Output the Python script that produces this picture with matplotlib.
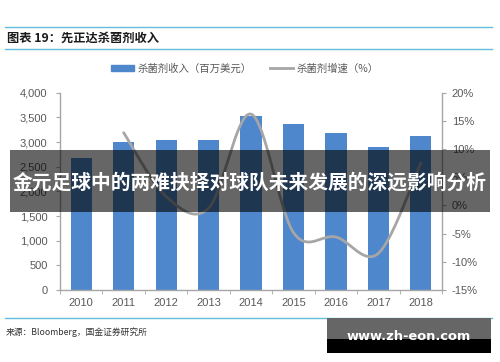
import numpy as np
import matplotlib
matplotlib.use("Agg")
import matplotlib.pyplot as plt
from matplotlib.patches import Rectangle
from matplotlib.lines import Line2D
from matplotlib.ticker import FuncFormatter, MultipleLocator

plt.rcParams["font.family"] = ["Liberation Sans", "Noto Sans CJK SC", "DejaVu Sans"]
plt.rcParams["axes.unicode_minus"] = False

years = ["2010", "2011", "2012", "2013", "2014", "2015", "2016", "2017", "2018"]
revenue = [2670, 3000, 3050, 3040, 3530, 3365, 3175, 2905, 3120]   # 百万美元
growth = [None, 12.9, 1.6, -0.5, 16.2, -4.8, -5.6, -8.5, 7.5]       # %

BAR_C = "#4f87cc"
LINE_C = "#a6a6a6"
AX_C = "#a6a6a6"
TXT_C = "#595959"
RULE_C = "#62bde0"
CJK = ["Noto Sans CJK SC", "DejaVu Sans"]


def smooth(xs, ys, n=40):
    # excel-style smoothed line: bezier through points, catmull-rom tangents
    pts = np.column_stack([xs, ys]).astype(float)
    out = []
    for i in range(len(pts) - 1):
        p0 = pts[max(i - 1, 0)]
        p1, p2 = pts[i], pts[i + 1]
        p3 = pts[min(i + 2, len(pts) - 1)]
        c1 = p1 + (p2 - p0) / 6
        c2 = p2 - (p3 - p1) / 6
        t = np.linspace(0, 1, n)[:, None]
        seg = ((1 - t) ** 3) * p1 + 3 * ((1 - t) ** 2) * t * c1 + 3 * (1 - t) * t ** 2 * c2 + t ** 3 * p2
        out.append(seg if i == 0 else seg[1:])
    seg = np.vstack(out)
    return seg[:, 0], seg[:, 1]


fig = plt.figure(figsize=(5, 3.62), dpi=100)
ax = fig.add_axes([60 / 500, 1 - 290 / 362, 382 / 500, 197.3 / 362])
ax2 = ax.twinx()

x = np.arange(len(years))
ax.bar(x, revenue, width=0.5, color=BAR_C, zorder=2)
ax.set_xlim(-0.5, len(years) - 0.5)
ax.set_ylim(0, 4000)
ax.yaxis.set_major_locator(MultipleLocator(500))
ax.yaxis.set_major_formatter(FuncFormatter(lambda v, p: f"{int(v):,}"))
ax.set_xticks(x)
ax.set_xticklabels(years)
ax.set_xticks(np.arange(-0.5, len(years)), minor=True)

gx = [i for i, g in enumerate(growth) if g is not None]
gy = [g for g in growth if g is not None]
sx, sy = smooth(gx, gy)
ax2.plot(sx, sy, color=LINE_C, lw=2.0, solid_capstyle="round", zorder=3)
ax2.set_ylim(-15, 20)
ax2.yaxis.set_major_locator(MultipleLocator(5))
ax2.yaxis.set_major_formatter(FuncFormatter(lambda v, p: f"{int(round(v))}%"))

for a in (ax, ax2):
    for s in a.spines.values():
        s.set_visible(False)
ax.spines["left"].set_visible(True)
ax.spines["bottom"].set_visible(True)
ax2.spines["right"].set_visible(True)
for s in (ax.spines["left"], ax.spines["bottom"], ax2.spines["right"]):
    s.set_color(AX_C)
    s.set_linewidth(1.0)

ax.tick_params(axis="y", colors=AX_C, labelcolor=TXT_C, labelsize=8, length=3, pad=6)
ax.tick_params(axis="x", which="major", length=0, labelcolor=TXT_C, labelsize=8, pad=6)
ax.tick_params(axis="x", which="minor", colors=AX_C, length=3)
ax2.tick_params(axis="y", colors=AX_C, labelcolor=TXT_C, labelsize=8, length=3, pad=4)

# legend
handles = [Rectangle((0, 0), 1, 1, color=BAR_C),
           Line2D([0], [0], color=LINE_C, lw=2.0)]
fig.legend(handles, ["杀菌剂收入（百万美元）", "杀菌剂增速（%）"], loc="center",
           bbox_to_anchor=(0.49, 1 - 68.5 / 362), ncol=2, frameon=False,
           prop={"family": CJK, "size": 7.5}, labelcolor=TXT_C,
           handlelength=2.2, handleheight=0.5, handletextpad=0.3, columnspacing=1.8)

# header / footer
fig.add_artist(Line2D([5 / 500, 492 / 500], [1 - 26.7 / 362] * 2, color=RULE_C, lw=1.0))
fig.add_artist(Line2D([5 / 500, 492 / 500], [1 - 49.3 / 362] * 2, color=RULE_C, lw=1.0))
fig.add_artist(Line2D([5 / 500, 492 / 500], [1 - 318.3 / 362] * 2, color=RULE_C, lw=1.0))
fig.text(7 / 500, 1 - 38 / 362, "图表 19：先正达杀菌剂收入", family=CJK, fontsize=8.8,
         fontweight="bold", color="#1a1a1a", va="center", ha="left")
fig.text(6 / 500, 1 - 331.7 / 362, "来源：Bloomberg，国金证券研究所", family=CJK,
         fontsize=6.3, color="#333333", va="center", ha="left")

# overlay banner
fig.add_artist(Rectangle((10 / 500, 1 - 211.7 / 362), 480 / 500, 61.7 / 362,
                         transform=fig.transFigure, facecolor="black", alpha=0.6,
                         edgecolor="none", zorder=10))
fig.text(0.5, 1 - 183 / 362, "金元足球中的两难抉择对球队未来发展的深远影响分析",
         family=CJK, fontsize=14.2, fontweight="bold", color="white",
         ha="center", va="center", zorder=11)

# watermark
fig.add_artist(Rectangle((327 / 500, 1 - 339 / 362), 164 / 500, 20.7 / 362,
                         transform=fig.transFigure, facecolor="#666666",
                         edgecolor="none", zorder=10))
fig.add_artist(Rectangle((327 / 500, 1 - 352.7 / 362), 164 / 500, 13.7 / 362,
                         transform=fig.transFigure, facecolor="black",
                         edgecolor="none", zorder=10))
fig.text(409 / 500, 1 - 336 / 362, "www.zh-eon.com", family="DejaVu Sans",
         fontsize=9.4, fontweight="bold", color="white", ha="center", va="center", zorder=11)

fig.savefig("out.png", dpi=100, facecolor="white")
